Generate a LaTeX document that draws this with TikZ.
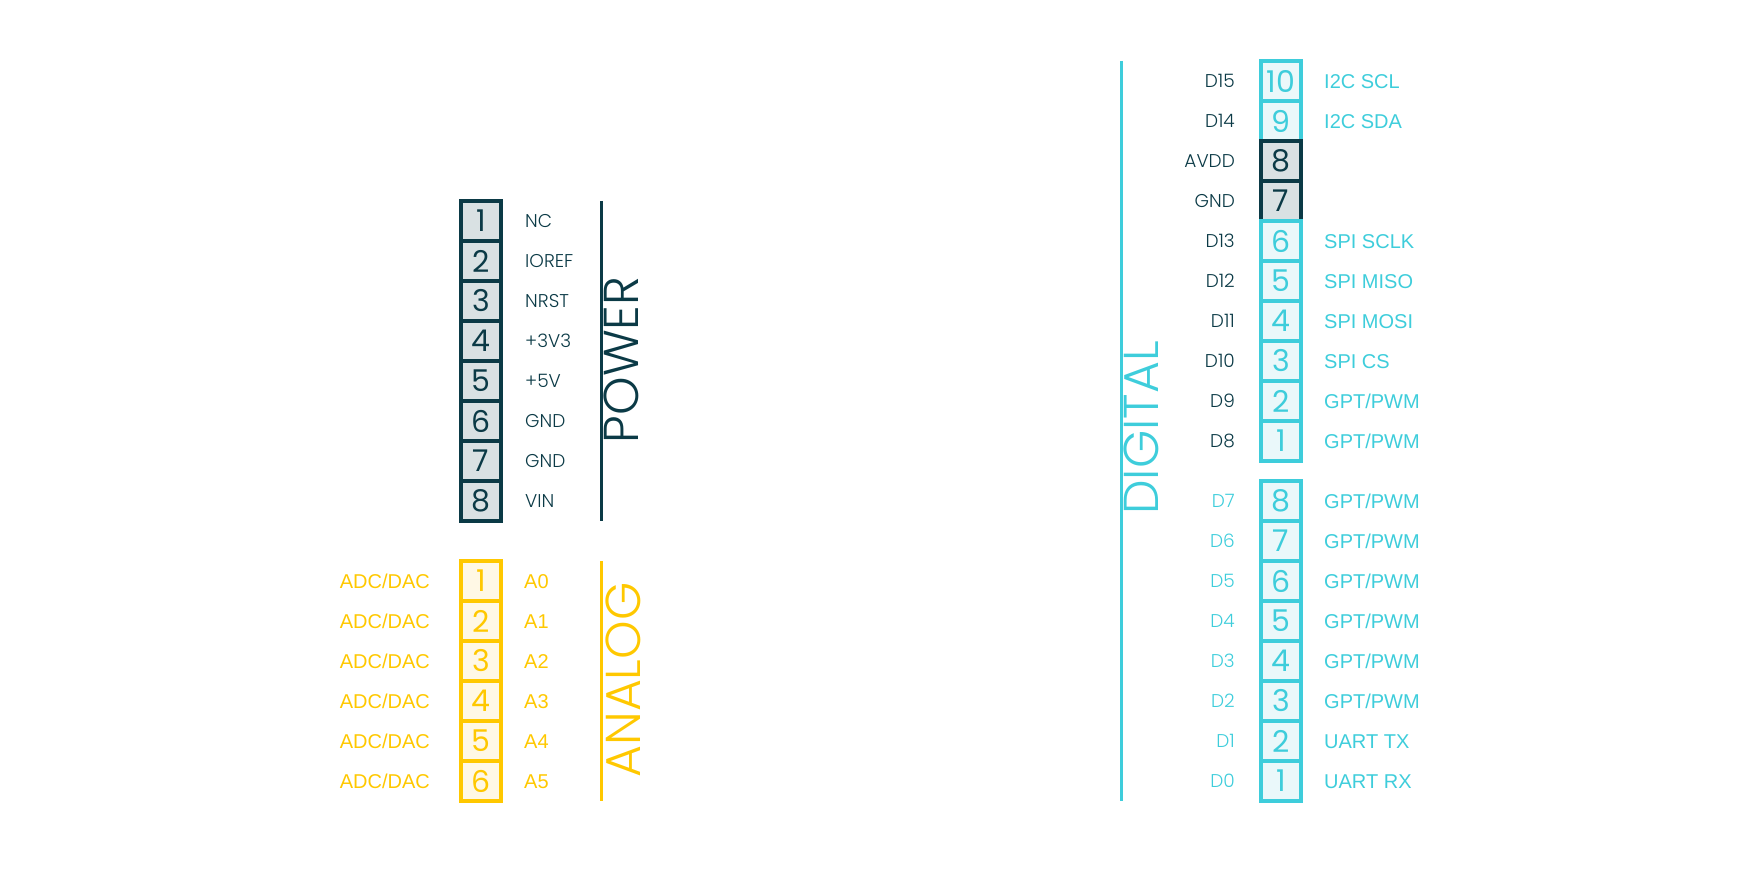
\documentclass[tikz,border=0pt]{standalone}
\usepackage{fontspec}
\setmainfont{Poppins}[UprightFont=* Light]
\newfontfamily\numfont{Poppins}
\newfontfamily\pinfont{Liberation Sans}
\definecolor{pwrdark}{HTML}{0B3A46}
\definecolor{pwrfill}{HTML}{D9E1E3}
\definecolor{anayel}{HTML}{FFC800}
\definecolor{anafill}{HTML}{FFF8E5}
\definecolor{digcyan}{HTML}{3ECDDB}
\definecolor{digfill}{HTML}{EAF8FA}
\tikzset{
  pinbox/.style={draw, line width=3.8pt, minimum width=40pt, minimum height=40pt,
    inner sep=0pt, font=\numfont\fontsize{30}{30}\selectfont},
  pwrpin/.style={pinbox, draw=pwrdark, fill=pwrfill, text=pwrdark},
  anapin/.style={pinbox, draw=anayel, fill=anafill, text=anayel},
  digpin/.style={pinbox, draw=digcyan, fill=digfill, text=digcyan},
  namelbl/.style={inner sep=0pt, text height=13pt, text depth=0pt,
    font=\fontsize{18.5}{18.5}\selectfont},
  funclbl/.style={inner sep=0pt, text height=14.3pt, text depth=0pt,
    font=\pinfont\fontsize{20}{20}\selectfont},
  grouplbl/.style={inner sep=0pt, rotate=90, anchor=base,
    font=\fontsize{49}{49}\selectfont},
  groupline/.style={line width=3pt}
}
\begin{document}
\begin{tikzpicture}[x=1pt,y=-1pt]
  \useasboundingbox (0,0) rectangle (1762,882);
  % power header
  \draw
    (481,221) node[pwrpin] (pw1) {1}
    (481,261) node[pwrpin] (pw2) {2}
    (481,301) node[pwrpin] (pw3) {3}
    (481,341) node[pwrpin] (pw4) {4}
    (481,381) node[pwrpin] (pw5) {5}
    (481,421) node[pwrpin] (pw6) {6}
    (481,461) node[pwrpin] (pw7) {7}
    (481,501) node[pwrpin] (pw8) {8};
  \begin{scope}[every node/.style={namelbl, anchor=west, text=pwrdark}]
    \draw
      (525,221) node (pwn1) {NC}
      (525,261) node (pwn2) {IOREF}
      (525,301) node (pwn3) {NRST}
      (525,341) node (pwn4) {+3V3}
      (525,381) node (pwn5) {+5V}
      (525,421) node (pwn6) {GND}
      (525,461) node (pwn7) {GND}
      (525,501) node (pwn8) {VIN};
  \end{scope}
  \coordinate (pwrtop) at (601,201);
  \coordinate (pwrbot) at (601,521);
  \draw[groupline, pwrdark] (pwrtop) -- (pwrbot);
  \node[grouplbl, text=pwrdark] (pwrname) at (638,360) {POWER};
  % analog header
  \draw
    (481,581) node[anapin] (an1) {1}
    (481,621) node[anapin] (an2) {2}
    (481,661) node[anapin] (an3) {3}
    (481,701) node[anapin] (an4) {4}
    (481,741) node[anapin] (an5) {5}
    (481,781) node[anapin] (an6) {6};
  \begin{scope}[every node/.style={funclbl, text=anayel}]
    \draw
      (430,581) node[anchor=east] (anf1) {ADC/DAC}
      (430,621) node[anchor=east] (anf2) {ADC/DAC}
      (430,661) node[anchor=east] (anf3) {ADC/DAC}
      (430,701) node[anchor=east] (anf4) {ADC/DAC}
      (430,741) node[anchor=east] (anf5) {ADC/DAC}
      (430,781) node[anchor=east] (anf6) {ADC/DAC}
      (524,581) node[anchor=west] (ann1) {A0}
      (524,621) node[anchor=west] (ann2) {A1}
      (524,661) node[anchor=west] (ann3) {A2}
      (524,701) node[anchor=west] (ann4) {A3}
      (524,741) node[anchor=west] (ann5) {A4}
      (524,781) node[anchor=west] (ann6) {A5};
  \end{scope}
  \coordinate (anatop) at (601,561);
  \coordinate (anabot) at (601,801);
  \draw[groupline, anayel] (anatop) -- (anabot);
  \node[grouplbl, text=anayel] (ananame) at (640,680) {ANALOG};
  % digital header, upper row
  \draw
    (1281,81) node[digpin] (dh10) {10}
    (1281,121) node[digpin] (dh9) {9}
    (1281,161) node[pwrpin] (dh8) {8}
    (1281,201) node[pwrpin] (dh7) {7}
    (1281,241) node[digpin] (dh6) {6}
    (1281,281) node[digpin] (dh5) {5}
    (1281,321) node[digpin] (dh4) {4}
    (1281,361) node[digpin] (dh3) {3}
    (1281,401) node[digpin] (dh2) {2}
    (1281,441) node[digpin] (dh1) {1};
  % digital header, lower row
  \draw
    (1281,501) node[digpin] (dl8) {8}
    (1281,541) node[digpin] (dl7) {7}
    (1281,581) node[digpin] (dl6) {6}
    (1281,621) node[digpin] (dl5) {5}
    (1281,661) node[digpin] (dl4) {4}
    (1281,701) node[digpin] (dl3) {3}
    (1281,741) node[digpin] (dl2) {2}
    (1281,781) node[digpin] (dl1) {1};
  \begin{scope}[every node/.style={namelbl, anchor=east}]
    \draw[text=pwrdark]
      (1235,81) node (dhn10) {D15}
      (1235,121) node (dhn9) {D14}
      (1235,161) node (dhn8) {AVDD}
      (1235,201) node (dhn7) {GND}
      (1235,241) node (dhn6) {D13}
      (1235,281) node (dhn5) {D12}
      (1235,321) node (dhn4) {D11}
      (1235,361) node (dhn3) {D10}
      (1235,401) node (dhn2) {D9}
      (1235,441) node (dhn1) {D8};
    \draw[text=digcyan]
      (1235,501) node (dln8) {D7}
      (1235,541) node (dln7) {D6}
      (1235,581) node (dln6) {D5}
      (1235,621) node (dln5) {D4}
      (1235,661) node (dln4) {D3}
      (1235,701) node (dln3) {D2}
      (1235,741) node (dln2) {D1}
      (1235,781) node (dln1) {D0};
  \end{scope}
  \begin{scope}[every node/.style={funclbl, anchor=west, text=digcyan}]
    \draw
      (1324,81) node (dhf10) {I2C SCL}
      (1324,121) node (dhf9) {I2C SDA}
      (1324,241) node (dhf6) {SPI SCLK}
      (1324,281) node (dhf5) {SPI MISO}
      (1324,321) node (dhf4) {SPI MOSI}
      (1324,361) node (dhf3) {SPI CS}
      (1324,401) node (dhf2) {GPT/PWM}
      (1324,441) node (dhf1) {GPT/PWM}
      (1324,501) node (dlf8) {GPT/PWM}
      (1324,541) node (dlf7) {GPT/PWM}
      (1324,581) node (dlf6) {GPT/PWM}
      (1324,621) node (dlf5) {GPT/PWM}
      (1324,661) node (dlf4) {GPT/PWM}
      (1324,701) node (dlf3) {GPT/PWM}
      (1324,741) node (dlf2) {UART TX}
      (1324,781) node (dlf1) {UART RX};
  \end{scope}
  \coordinate (digtop) at (1121,61);
  \coordinate (digbot) at (1121,801);
  \draw[groupline, digcyan] (digtop) -- (digbot);
  \node[grouplbl, text=digcyan] (digname) at (1158,428) {DIGITAL};
\end{tikzpicture}
\end{document}
